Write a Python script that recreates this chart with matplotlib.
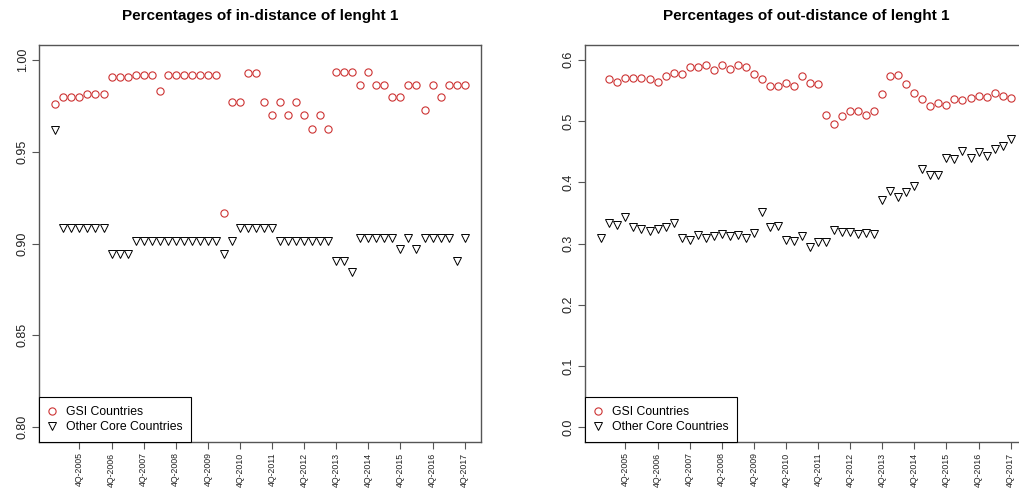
import numpy as np
import matplotlib
matplotlib.use("Agg")
import matplotlib.pyplot as plt

plt.rcParams['font.family'] = ['Liberation Sans', 'DejaVu Sans']

# quarterly observations, 1Q-2005 .. 4Q-2017
gsi_in = [0.976, 0.9795, 0.9795, 0.9795, 0.9816, 0.9816, 0.9816, 0.9907, 0.9907, 0.9907,
          0.9916, 0.9916, 0.9916, 0.983, 0.9916, 0.9916, 0.9916, 0.9916, 0.9916, 0.9916,
          0.9916, 0.9165, 0.977, 0.977, 0.9925, 0.9925, 0.977, 0.970, 0.977, 0.970,
          0.977, 0.970, 0.9625, 0.970, 0.9625, 0.9935, 0.9935, 0.9935, 0.9865, 0.9935,
          0.9865, 0.9865, 0.9795, 0.9795, 0.9865, 0.9865, 0.9725, 0.9865, 0.9795, 0.9865,
          0.9865, 0.9865]
other_in = [0.9615, 0.9085, 0.9085, 0.9085, 0.9085, 0.9085, 0.9085, 0.8945, 0.8945, 0.8945,
            0.9016, 0.9016, 0.9016, 0.9016, 0.9016, 0.9016, 0.9016, 0.9016, 0.9016, 0.9016,
            0.9016, 0.8945, 0.9016, 0.9085, 0.9085, 0.9085, 0.9085, 0.9085, 0.9016, 0.9016,
            0.9016, 0.9016, 0.9016, 0.9016, 0.9016, 0.8907, 0.8907, 0.8844, 0.903, 0.903,
            0.903, 0.903, 0.903, 0.8972, 0.903, 0.8972, 0.903, 0.903, 0.903, 0.903,
            0.8907, 0.903]
gsi_out = [np.nan, 0.568, 0.563, 0.5706, 0.5695, 0.5706, 0.568, 0.563, 0.5733, 0.5788,
           0.5771, 0.588, 0.588, 0.5907, 0.5826, 0.5907, 0.5842, 0.5907, 0.588, 0.5766,
           0.5684, 0.5565, 0.5578, 0.5614, 0.5565, 0.5728, 0.562, 0.5597, 0.5097, 0.495,
           0.5075, 0.5157, 0.5157, 0.5097, 0.5162, 0.5434, 0.5728, 0.5755, 0.5608, 0.545,
           0.5358, 0.5244, 0.5293, 0.5266, 0.5358, 0.5342, 0.5369, 0.5412, 0.5396, 0.5456,
           0.5412, 0.5374]
other_out = [0.309, 0.3334, 0.3307, 0.3427, 0.3275, 0.3236, 0.3209, 0.3236, 0.3264, 0.3329,
             0.3084, 0.3051, 0.3138, 0.309, 0.3128, 0.3155, 0.3122, 0.3144, 0.309, 0.3171,
             0.3509, 0.3264, 0.3291, 0.3057, 0.3046, 0.3117, 0.2948, 0.3019, 0.3019, 0.3215,
             0.3187, 0.3187, 0.3149, 0.3176, 0.3149, 0.371, 0.3851, 0.3753, 0.3835, 0.3944,
             0.4216, 0.4118, 0.4118, 0.439, 0.4373, 0.4504, 0.439, 0.4498, 0.4422, 0.4542,
             0.4596, 0.4705]

tick_pos = [4, 8, 12, 16, 20, 24, 28, 32, 36, 40, 44, 48, 52]
tick_labels = ["4Q-2005", "4Q-2006", "4Q-2007", "4Q-2008", "4Q-2009", "4Q-2010", "4Q-2011",
               "4Q-2012", "4Q-2013", "4Q-2014", "4Q-2015", "4Q-2016", "4Q-2017"]

red = '#CD3333'
frame = '#555555'

fig = plt.figure(figsize=(10.2, 4.94), dpi=100)
W, H = 1020, 494
bottom = (H - 442) / H
height = 397 / H
ax1 = fig.add_axes([39 / W, bottom, 442 / W, height])
ax2 = fig.add_axes([585 / W, bottom, 442 / W, height])


def panel(ax, gsi, other, ylim, yticks, ylabels, title):
    x = np.arange(1, len(gsi) + 1)
    ax.plot(x, gsi, 'o', ls='none', mfc='none', mec=red, ms=5.2, mew=0.8,
            label='GSI Countries')
    ax.plot(x, other, 'v', ls='none', mfc='none', mec='black', ms=5.8, mew=0.7,
            label='Other Core Countries')
    pad = 0.04 * (52 - 1)
    ax.set_xlim(1 - pad, 52 + pad)
    r = ylim[1] - ylim[0]
    ax.set_ylim(ylim[0] - 0.04 * r, ylim[1] + 0.04 * r)
    ax.set_xticks(tick_pos)
    ax.set_xticklabels(tick_labels, rotation=90, fontsize=6.3, color='#222222')
    ax.set_yticks(yticks)
    ax.set_yticklabels(ylabels, rotation=90, va='center', fontsize=9, color='#222222')
    ax.tick_params(direction='out', length=5, width=0.8, color=frame, pad=2.5)
    for s in ax.spines.values():
        s.set_color(frame)
        s.set_linewidth(1.0)
    ax.set_title(title, fontsize=11, fontweight='bold', pad=18)
    leg = ax.legend(loc='lower left', bbox_to_anchor=(0, 0), borderaxespad=0,
                    fancybox=False, edgecolor='black', framealpha=1, fontsize=8.8,
                    handlelength=0.8, handletextpad=0.7, borderpad=0.7,
                    labelspacing=0.3)
    leg.get_frame().set_linewidth(0.8)


panel(ax1, gsi_in, other_in, (0.80, 1.00), [0.80, 0.85, 0.90, 0.95, 1.00],
      ["0.80", "0.85", "0.90", "0.95", "1.00"], "Percentages of in-distance of lenght 1")
panel(ax2, gsi_out, other_out, (0.0, 0.6), [0.0, 0.1, 0.2, 0.3, 0.4, 0.5, 0.6],
      ["0.0", "0.1", "0.2", "0.3", "0.4", "0.5", "0.6"], "Percentages of out-distance of lenght 1")

fig.savefig('out.png', dpi=100)
